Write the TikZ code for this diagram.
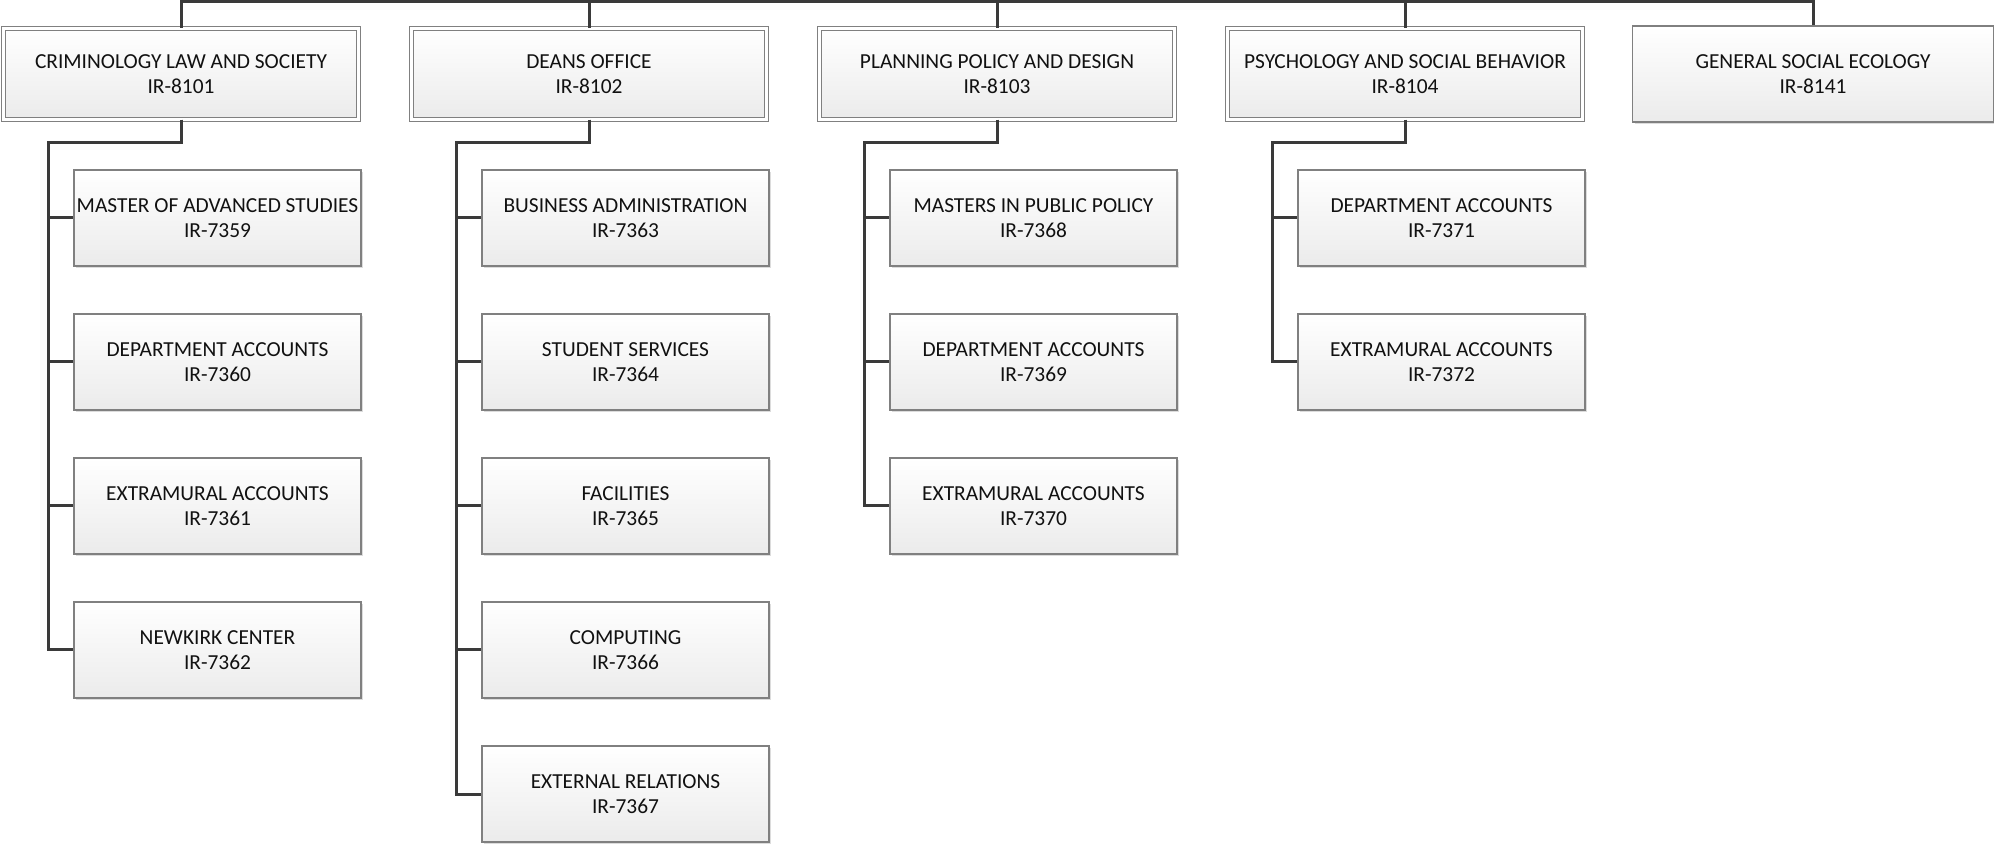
\documentclass[tikz,border=0pt]{standalone}
\usepackage{fontspec}
\setmainfont{Carlito}
\usetikzlibrary{shadows}
\definecolor{conncol}{HTML}{3A3A3A}
\definecolor{boxline}{HTML}{808080}
\definecolor{boxbot}{HTML}{EBEBEB}
\definecolor{txtcol}{HTML}{111111}
\definecolor{shadcol}{HTML}{DCDCDC}
\tikzset{
  basebox/.style={draw=boxline, line width=0.6pt, top color=white, bottom color=boxbot,
    align=center, inner sep=0pt, text=txtcol,
    font=\fontsize{10.7}{12.7}\selectfont,
    drop shadow={shadow xshift=1.2pt, shadow yshift=-1.2pt, fill=shadcol, opacity=1}},
  childbox/.style={basebox, minimum width=143.5pt, minimum height=48pt},
  parentbox/.style={basebox, line width=0.5pt, double=white, double distance=1.5pt,
    minimum width=177.5pt, minimum height=45.5pt},
  leafbox/.style={basebox, minimum width=180.5pt, minimum height=48pt},
  conn/.style={draw=conncol, line width=1.5pt}
}
\begin{document}
\begin{tikzpicture}[x=0.5pt,y=-0.5pt]
\useasboundingbox (0,0) rectangle (1994,844);
% top-level
\node[parentbox] (p1) at (181,74) {CRIMINOLOGY LAW AND SOCIETY\\IR-8101};
\node[parentbox] (p2) at (589,74) {DEANS OFFICE\\IR-8102};
\node[parentbox] (p3) at (997,74) {PLANNING POLICY AND DESIGN\\IR-8103};
\node[parentbox] (p4) at (1405,74) {PSYCHOLOGY AND SOCIAL BEHAVIOR\\IR-8104};
\node[leafbox] (p5) at (1813,74) {GENERAL SOCIAL ECOLOGY\\IR-8141};
% children column 1
\node[childbox] (a1) at (217.5,218) {MASTER OF ADVANCED STUDIES\\IR-7359};
\node[childbox] (a2) at (217.5,362) {DEPARTMENT ACCOUNTS\\IR-7360};
\node[childbox] (a3) at (217.5,506) {EXTRAMURAL ACCOUNTS\\IR-7361};
\node[childbox] (a4) at (217.5,650) {NEWKIRK CENTER\\IR-7362};
% column 2
\node[childbox] (b1) at (625.5,218) {BUSINESS ADMINISTRATION\\IR-7363};
\node[childbox] (b2) at (625.5,362) {STUDENT SERVICES\\IR-7364};
\node[childbox] (b3) at (625.5,506) {FACILITIES\\IR-7365};
\node[childbox] (b4) at (625.5,650) {COMPUTING\\IR-7366};
\node[childbox] (b5) at (625.5,794) {EXTERNAL RELATIONS\\IR-7367};
% column 3
\node[childbox] (c1) at (1033.5,218) {MASTERS IN PUBLIC POLICY\\IR-7368};
\node[childbox] (c2) at (1033.5,362) {DEPARTMENT ACCOUNTS\\IR-7369};
\node[childbox] (c3) at (1033.5,506) {EXTRAMURAL ACCOUNTS\\IR-7370};
% column 4
\node[childbox] (d1) at (1441.5,218) {DEPARTMENT ACCOUNTS\\IR-7371};
\node[childbox] (d2) at (1441.5,362) {EXTRAMURAL ACCOUNTS\\IR-7372};
% top bar
\coordinate (bar) at (997,1.5);
\coordinate (root) at (793,-10);
\draw[conn] (p1.north) |- (bar) -| (p5.north);
\draw[conn] (p2.north) -- (p2.north |- bar);
\draw[conn] (p3.north) -- (p3.north |- bar);
\draw[conn] (p4.north) -- (p4.north |- bar);
\draw[conn] (root) -- (root |- bar);
% branches
\foreach \p/\kids in {p1/{a1,a2,a3,a4}, p2/{b1,b2,b3,b4,b5}, p3/{c1,c2,c3}, p4/{d1,d2}} {
  \foreach \k in \kids {
    \draw[conn] (\p.south) -- ++(0,23) -| ([xshift=-12.5pt]\k.west) -- (\k.west);
  }
}
\end{tikzpicture}
\end{document}
